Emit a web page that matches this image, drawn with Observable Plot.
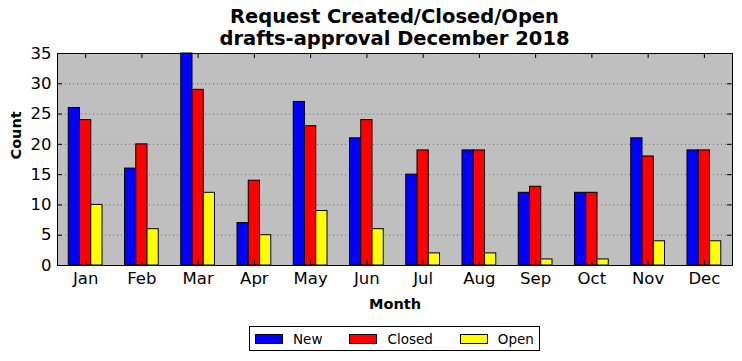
<!DOCTYPE html>
<html>
<head>
<meta charset="utf-8">
<script src="https://cdn.jsdelivr.net/npm/d3@7"></script>
<script src="https://cdn.jsdelivr.net/npm/@observablehq/plot@0.6"></script>
<style>
  body { margin: 0; background: #fff; font-family: "DejaVu Sans", sans-serif; }
  #wrap { width: 742px; height: 361px; position: relative; overflow: hidden; }
  #title { position: absolute; left: 57px; width: 675px; top: 6px; text-align: center;
           font-weight: bold; font-size: 19.5px; line-height: 21.5px; color: #000; z-index: 2; }
  #chart { position: absolute; left: 0; top: 33px; }
  #legend { position: absolute; left: 249px; top: 326px; border: 1px solid #000; display: flex;
            align-items: center; font-size: 13.5px; box-sizing: border-box; width: 291px; height: 25px; }
  .item { display: flex; align-items: center; }
  .sw { width: 28px; height: 10px; border: 1px solid #000; box-sizing: border-box; margin-left: 5px; margin-right: 10px; }
</style>
</head>
<body>
<div id="wrap">
  <div id="title">Request Created/Closed/Open<br>drafts-approval December 2018</div>
  <div id="chart"></div>
  <div id="legend"></div>
</div>
<script>
const months = ["Jan","Feb","Mar","Apr","May","Jun","Jul","Aug","Sep","Oct","Nov","Dec"];
const seriesNames = ["New","Closed","Open"];
const newCounts = [26,16,35,7,27,21,15,19,12,12,21,19];
const closedCounts = [24,20,29,14,23,24,19,19,13,12,18,19];
const openCounts = [10,6,12,5,9,6,2,2,1,1,4,4];
const seriesColors = ["#0000ff","#ff0000","#ffff00"];
const yTicks = [0,5,10,15,20,25,30,35];

const seriesValues = [newCounts, closedCounts, openCounts];
const barW = 0.2;
const rows = [];
seriesNames.forEach((s, k) => {
  seriesValues[k].forEach((v, i) => {
    const c = i + (k - 1) * barW;
    rows.push({series: s, month: months[i], x1: c - barW / 2, x2: c + barW / 2, value: v});
  });
});
const idx = months.map((m, i) => i);

const W = 742, mL = 57, mR = 10, mT = 20, mB = 50, H = 282;
const plotW = W - mL - mR, plotH = H - mT - mB;

const chart = Plot.plot({
  width: W, height: H,
  marginLeft: mL, marginRight: mR, marginTop: mT, marginBottom: mB,
  style: {fontFamily: "DejaVu Sans, sans-serif", fontSize: "16.5px", color: "#000", background: "transparent", overflow: "visible"},
  x: {type: "linear", domain: [-0.5, 11.5]},
  y: {domain: [0, 35]},
  color: {domain: seriesNames, range: seriesColors},
  marks: [
    Plot.frame({fill: "#bfbfbf", stroke: null}),
    Plot.ruleY(yTicks.slice(1, -1), {stroke: "#555", strokeWidth: 0.8, strokeDasharray: "1,3"}),
    Plot.rectY(rows, {x1: "x1", x2: "x2", y1: 0, y2: "value", fill: "series", stroke: "#000", strokeWidth: 1}),
    Plot.tickY(yTicks, {y: d => d, insetRight: plotW - 5, stroke: "#000"}),
    Plot.tickY(yTicks, {y: d => d, insetLeft: plotW - 5, stroke: "#000"}),
    Plot.tickX(idx, {x: d => d, insetBottom: plotH - 5, stroke: "#000"}),
    Plot.tickX(idx, {x: d => d, insetTop: plotH - 5, stroke: "#000"}),
    Plot.frame({stroke: "#000", strokeWidth: 1}),
    Plot.axisX(idx, {tickSize: 0, tickPadding: 7, fontSize: 16.5, label: null, tickFormat: i => months[i]}),
    Plot.axisY(yTicks, {tickSize: 0, tickPadding: 6, fontSize: 16.5, label: null}),
    Plot.text(["Month"], {frameAnchor: "bottom", dy: 43, fontWeight: "bold", fontSize: 14.5, text: d => d}),
    Plot.text(["Count"], {frameAnchor: "left", dx: -41, rotate: -90, fontWeight: "bold", fontSize: 14.5, text: d => d})
  ]
});
document.getElementById("chart").appendChild(chart);

const legend = document.getElementById("legend");
seriesNames.forEach((s, k) => {
  const it = document.createElement("div");
  it.className = "item";
  const sw = document.createElement("div");
  sw.className = "sw";
  sw.style.background = seriesColors[k];
  const t = document.createElement("span");
  t.textContent = s;
  t.style.marginRight = k < 2 ? "22px" : "0";
  it.appendChild(sw); it.appendChild(t);
  legend.appendChild(it);
});
</script>
</body>
</html>
